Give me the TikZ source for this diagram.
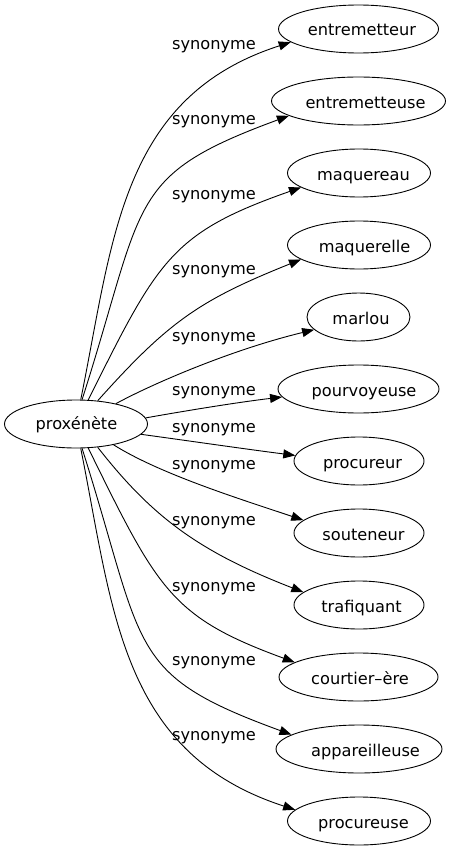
\documentclass[tikz,border=0pt]{standalone}
\usepackage{fontspec}
\setmainfont{DejaVu Sans}
\usetikzlibrary{shapes.geometric,arrows.meta}
\newcommand{\wtxt}[3]{\raisebox{#2}[0pt][0pt]{\makebox[0pt]{\hspace*{#1}#3}}}
\begin{document}
\begin{tikzpicture}[x=1pt,y=-1pt,
  word/.style={draw, ellipse, line width=0.9pt, inner sep=0pt, minimum height=48pt, font=\fontsize{16.2}{19}\selectfont},
  lab/.style={inner sep=0pt, font=\fontsize{16.2}{19}\selectfont},
  syn/.style={draw, line width=0.9pt, -{Triangle[length=12pt,width=9pt]}}]
\useasboundingbox (0,0) rectangle (451,851);
\node[word, minimum width=143pt] (p) at (76,424) {\wtxt{1pt}{-5.8pt}{proxénète}};
\node[word, minimum width=160pt] (t1) at (358.5,29) {\wtxt{7pt}{-7pt}{entremetteur}};
\node[word, minimum width=174pt] (t2) at (358.5,101) {\wtxt{14pt}{-7pt}{entremetteuse}};
\node[word, minimum width=143pt] (t3) at (359,173) {\wtxt{9pt}{-7pt}{maquereau}};
\node[word, minimum width=143pt] (t4) at (359,245) {\wtxt{11pt}{-7pt}{maquerelle}};
\node[word, minimum width=103pt] (t5) at (358.5,317) {\wtxt{5pt}{-7pt}{marlou}};
\node[word, minimum width=161pt] (t6) at (358.5,389) {\wtxt{11pt}{-7pt}{pourvoyeuse}};
\node[word, minimum width=130pt] (t7) at (359,461) {\wtxt{7pt}{-7pt}{procureur}};
\node[word, minimum width=130pt] (t8) at (359,533) {\wtxt{9pt}{-7pt}{souteneur}};
\node[word, minimum width=130pt] (t9) at (359,605) {\wtxt{5pt}{-7pt}{trafiquant}};
\node[word, minimum width=159pt] (t10) at (358.5,677) {\wtxt{3pt}{-7pt}{courtier–ère}};
\node[word, minimum width=166pt] (t11) at (359,749) {\wtxt{13pt}{-7pt}{appareilleuse}};
\node[word, minimum width=143pt] (t12) at (359,821) {\wtxt{9pt}{-7pt}{procureuse}};
\node[lab] (l1) at (214,47) {synonyme};
\node[lab] (l2) at (214,122) {synonyme};
\node[lab] (l3) at (214,197) {synonyme};
\node[lab] (l4) at (214,272) {synonyme};
\node[lab] (l5) at (214,339) {synonyme};
\node[lab] (l6) at (214,393) {synonyme};
\node[lab] (l7) at (214,430) {synonyme};
\node[lab] (l8) at (214,467) {synonyme};
\node[lab] (l9) at (214,523) {synonyme};
\node[lab] (l10) at (214,589) {synonyme};
\node[lab] (l11) at (214,663) {synonyme};
\node[lab] (l12) at (214,738) {synonyme};
\path[syn] (p.79) .. controls (113,241) and (120,97) .. (t1.191);
\path[syn] (p.76) .. controls (146,200) and (125,176) .. (t2.192);
\path[syn] (p.63) .. controls (158,260) and (171,233) .. (t3.194);
\path[syn] (p.47) .. controls (169,321) and (200,300) .. (t4.194);
\path[syn] (p.27) .. controls (150,385) and (230,350) .. (t5.196);
\path[syn] (p.5) .. controls (190,410) and (240,402) .. (t6.186);
\path[syn] (p.-9) .. controls (190,441) and (245,449) .. (t7.175);
\path[syn] (p.-29) .. controls (160,474) and (240,499) .. (t8.167);
\path[syn] (p.-47) .. controls (153,518) and (200,552) .. (t9.167);
\path[syn] (p.-63) .. controls (158,590) and (171,617) .. (t10.167);
\path[syn] (p.-76) .. controls (146,650) and (125,674) .. (t11.168);
\path[syn] (p.-79) .. controls (113,609) and (120,753) .. (t12.170);
\end{tikzpicture}
\end{document}
